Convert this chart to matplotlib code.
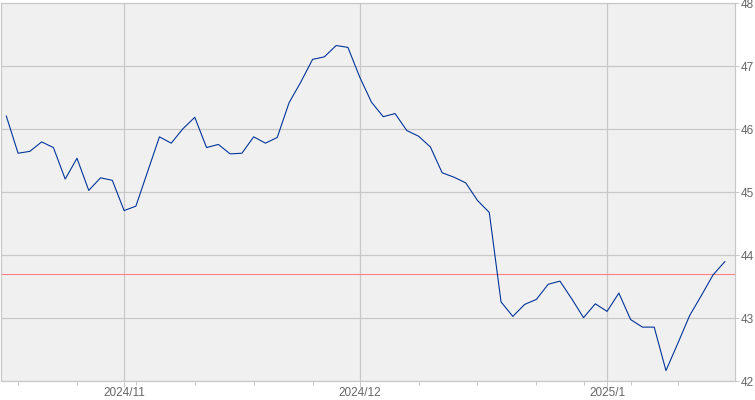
import numpy as np
import matplotlib
matplotlib.use("Agg")
import matplotlib.pyplot as plt


# ============================================================
# Data (daily close, trading-day index on x)
# ============================================================

PRICES = [
    46.21, 45.62, 45.65, 45.80, 45.71, 45.21, 45.54, 45.03, 45.23, 45.19,
    44.71, 44.78, 45.33, 45.88, 45.78, 46.01, 46.19, 45.71, 45.76, 45.61,
    45.62, 45.88, 45.78, 45.87, 46.42, 46.75, 47.11, 47.15, 47.33, 47.30,
    46.83, 46.43, 46.20, 46.25, 45.98, 45.89, 45.72, 45.31, 45.24, 45.15,
    44.87, 44.68, 43.26, 43.03, 43.22, 43.30, 43.54, 43.59, 43.31, 43.01,
    43.23, 43.11, 43.40, 42.98, 42.86, 42.86, 42.17, 42.60, 43.04, 43.36,
    43.69, 43.90,
]

REF_LEVEL = 43.7

MONTH_LABELS = ["2024/11", "2024/12", "2025/1"]
MONTH_IDX = [10, 30, 51]
WEEK_IDX = [1, 6, 11, 16, 21, 26, 35, 40, 45, 49, 53, 57]

Y_TICKS = [42, 43, 44, 45, 46, 47, 48]

# ============================================================
# Style
# ============================================================

W_PX, H_PX = 755, 400
DPI = 100
PX = 72.0 / DPI  # one pixel in points

BG = "#f0f0f0"
GRID = "#c8c8c8"
LINE = "#003399"
REF = "#ff8080"
TEXT = "#666666"


def main():
    fig = plt.figure(figsize=(W_PX / DPI, H_PX / DPI), dpi=DPI)
    fig.patch.set_facecolor("white")

    # plot box: x 1..735, y 3.3..381.3 (pixels from top-left)
    ax = fig.add_axes([1 / W_PX, (H_PX - 381.3) / H_PX,
                       734 / W_PX, 378 / H_PX])
    ax.set_facecolor(BG)

    x = np.arange(len(PRICES))
    ax.plot(x, PRICES, color=LINE, lw=1.1 * PX, zorder=3)
    ax.axhline(REF_LEVEL, color=REF, lw=1.1 * PX, zorder=2)

    ax.set_xlim(-0.45, 61.86)
    ax.set_ylim(42, 48)

    # y axis on the right
    ax.yaxis.tick_right()
    ax.set_yticks(Y_TICKS)
    ax.set_yticklabels([str(v) for v in Y_TICKS])
    ax.tick_params(axis="y", which="major", direction="out",
                   length=4.3 * PX, width=PX, color=GRID, pad=1.4 * PX,
                   labelsize=8.5, labelcolor=TEXT)

    # x axis: months major, weeks minor
    ax.set_xticks(MONTH_IDX)
    ax.set_xticklabels(MONTH_LABELS)
    ax.set_xticks(WEEK_IDX, minor=True)
    ax.tick_params(axis="x", which="major", direction="out",
                   length=6 * PX, width=PX, color=GRID, pad=0,
                   labelsize=8.5, labelcolor=TEXT)
    ax.tick_params(axis="x", which="minor", direction="out",
                   length=4.3 * PX, width=PX, color=GRID)

    for lab in ax.get_xticklabels() + ax.get_yticklabels():
        lab.set_family("Liberation Sans")

    ax.grid(True, which="major", color=GRID, lw=PX * 1.2, zorder=1)
    ax.set_axisbelow(True)

    for side in ["top", "bottom", "left", "right"]:
        ax.spines[side].set_color(GRID)
        ax.spines[side].set_linewidth(PX * 1.2)

    fig.savefig("out.png", dpi=DPI, facecolor=fig.get_facecolor())


if __name__ == "__main__":
    main()
